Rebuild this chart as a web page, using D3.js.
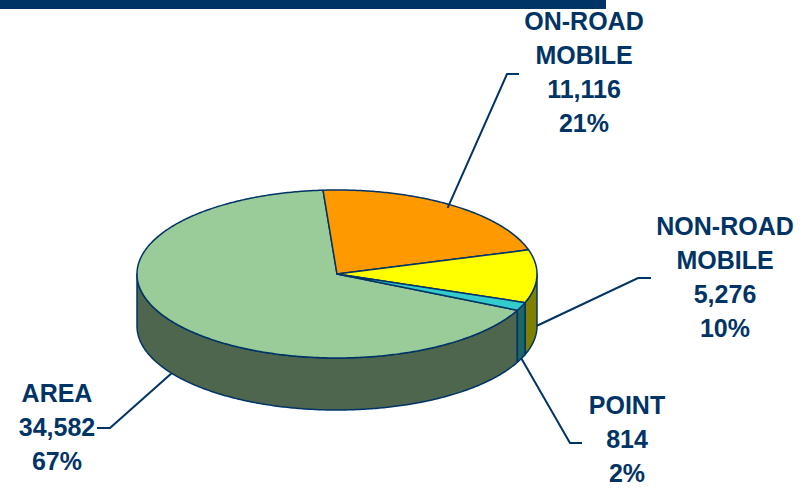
<!DOCTYPE html>
<html>
<head>
<meta charset="utf-8">
<script src="https://cdn.jsdelivr.net/npm/d3@7"></script>
<style>
  html, body { margin: 0; padding: 0; background: #fff; }
  svg { display: block; }
</style>
</head>
<body>
<div id="chart"></div>
<script>
// emissions by source category
const categories = ["AREA", "ON-ROAD", "NON-ROAD", "POINT"];
const labelLines = [["AREA"], ["ON-ROAD", "MOBILE"], ["NON-ROAD", "MOBILE"], ["POINT"]];
const values = [34582, 11116, 5276, 814];
const percents = ["67%", "21%", "10%", "2%"];

const topColors = ["#99CC99", "#FF9900", "#FFFF00", "#33CCCC"];
const sideColors = ["#4E664E", "#806000", "#808000", "#1D6666"];
const navy = "#003366";

const W = 811, H = 488;
const cx = 337, cy = 274, rx = 200, ry = 84, depth = 52;

const svg = d3.select("#chart").append("svg")
    .attr("width", W)
    .attr("height", H);

// header bar
svg.append("rect")
    .attr("x", 0).attr("y", 0)
    .attr("width", 606).attr("height", 9)
    .attr("fill", navy);

const startA = 115.6 * Math.PI / 180;
const pie = d3.pie().sort(null).value(d => d)
    .startAngle(startA).endAngle(startA + 2 * Math.PI);
const arcs = pie(values);

// angle measured clockwise from 12 o'clock, like d3.pie
const px = a => cx + rx * Math.sin(a);
const py = (a, dz = 0) => cy - ry * Math.cos(a) + dz;

function arcPoints(a0, a1, dz){
    const n = Math.max(2, Math.ceil(Math.abs(a1 - a0) / 0.01));
    return d3.range(n + 1).map(i => {
        const a = a0 + (a1 - a0) * i / n;
        return [px(a), py(a, dz)];
    });
}

const line = d3.line();

// side walls (only the front half, between 90° and 270°, faces the viewer)
const sides = svg.append("g");
arcs.forEach((d, i) => {
    [0, 2 * Math.PI].forEach(off => {
        const a0 = Math.max(d.startAngle, Math.PI / 2 + off);
        const a1 = Math.min(d.endAngle, 3 * Math.PI / 2 + off);
        if (a1 <= a0) return;
        const pts = arcPoints(a0, a1, 0).concat(arcPoints(a1, a0, depth));
        sides.append("path")
            .attr("d", line(pts) + "Z")
            .attr("fill", sideColors[i])
            .attr("stroke", navy)
            .attr("stroke-width", 1.5)
            .attr("stroke-linejoin", "round");
    });
});

// top faces
const tops = svg.append("g");
arcs.forEach((d, i) => {
    const pts = [[cx, cy]].concat(arcPoints(d.startAngle, d.endAngle, 0));
    tops.append("path")
        .attr("d", line(pts) + "Z")
        .attr("fill", topColors[i])
        .attr("stroke", navy)
        .attr("stroke-width", 1.5)
        .attr("stroke-linejoin", "round");
});

// labels: anchor depth fraction on wall, elbow, label centre, first baseline
const labelLayout = [
    { dz: 1.0,  elbow: [110, 428], end: [97, 428],  x: 57,  y: 402 },
    { dz: null, elbow: [507, 74],  end: [519, 74],  x: 584, y: 30 },
    { dz: 0.95, elbow: [638, 278], end: [651, 278], x: 725, y: 235 },
    { dz: 1.0,  elbow: [570, 443], end: [582, 443], x: 627, y: 414 }
];
const fmt = d3.format(",");
const lineH = 34;

arcs.forEach((d, i) => {
    const L = labelLayout[i];
    const mid = (d.startAngle + d.endAngle) / 2;
    let anchor;
    if (L.dz === null) {
        anchor = [px(mid) - 3, py(mid) + 3];
    } else {
        anchor = [px(mid), py(mid, depth * L.dz)];
    }
    svg.append("path")
        .attr("d", line([anchor, L.elbow, L.end]))
        .attr("fill", "none")
        .attr("stroke", navy)
        .attr("stroke-width", 2);

    const lines = labelLines[i].concat([fmt(values[i]), percents[i]]);
    const t = svg.append("text")
        .attr("text-anchor", "middle")
        .attr("font-family", "'Liberation Sans', Arial, sans-serif")
        .attr("font-weight", "bold")
        .attr("font-size", 25)
        .attr("fill", navy);
    lines.forEach((s, j) => {
        t.append("tspan")
            .attr("x", L.x)
            .attr("y", L.y + j * lineH)
            .text(s);
    });
});
</script>
</body>
</html>
